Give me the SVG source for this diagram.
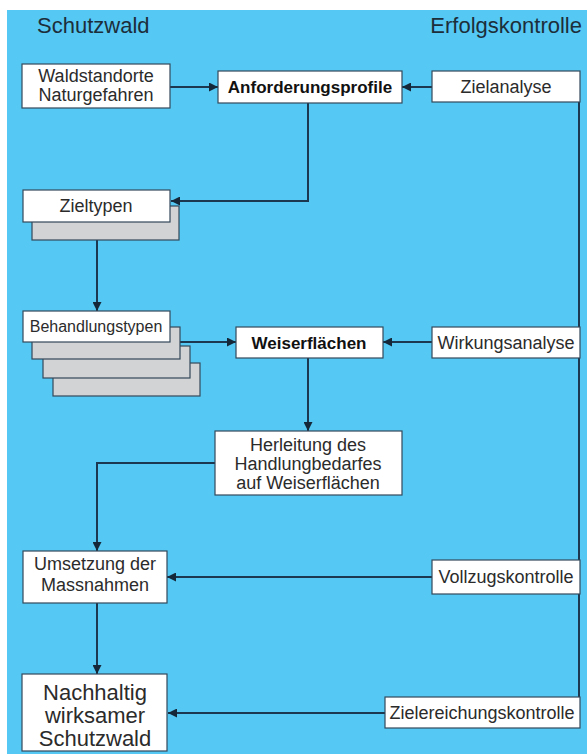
<svg xmlns="http://www.w3.org/2000/svg" width="587" height="754" viewBox="0 0 587 754">
<defs>
<style>
.box{fill:#ffffff;stroke:#33495a;stroke-width:1.2}
.sh{fill:#d2d3d5;stroke:#33495a;stroke-width:1.2}
.t{font-family:"Liberation Sans",Arial,sans-serif;font-size:18px;fill:#2b2b2b;text-anchor:middle}
.b{font-weight:bold;font-size:17px;fill:#111}
.big{font-size:22px}
.sm{font-size:16px}
.title{font-family:"Liberation Sans",Arial,sans-serif;font-size:22px;fill:#1c2e3a}
.c{fill:none;stroke:#1b3850;stroke-width:2}
</style>
<marker id="ah" markerWidth="10" markerHeight="9" refX="9" refY="4.5" orient="auto" markerUnits="userSpaceOnUse">
<path d="M0,0 L9,4.5 L0,9 z" fill="#14283a"/>
</marker>
</defs>
<rect x="7" y="10" width="580" height="744" fill="#56c8f4"/>
<text class="title" x="37" y="33">Schutzwald</text>
<text class="title" x="582" y="33" text-anchor="end">Erfolgskontrolle</text>

<g id="connectors">
<line class="c" x1="579" y1="102" x2="579" y2="698"/>
<line class="c" x1="170" y1="87" x2="218" y2="87" marker-end="url(#ah)"/>
<line class="c" x1="432" y1="87" x2="402" y2="87" marker-end="url(#ah)"/>
<polyline class="c" points="308,103 308,201 171,201" marker-end="url(#ah)"/>
<line class="c" x1="97" y1="240" x2="97" y2="311" marker-end="url(#ah)"/>
<line class="c" x1="180" y1="342" x2="236" y2="342" marker-end="url(#ah)"/>
<line class="c" x1="432" y1="342" x2="383" y2="342" marker-end="url(#ah)"/>
<line class="c" x1="308" y1="358" x2="308" y2="431" marker-end="url(#ah)"/>
<polyline class="c" points="215,463 97,463 97,551" marker-end="url(#ah)"/>
<line class="c" x1="432" y1="577" x2="167" y2="577" marker-end="url(#ah)"/>
<line class="c" x1="97" y1="603" x2="97" y2="674" marker-end="url(#ah)"/>
<line class="c" x1="385" y1="713" x2="168" y2="713" marker-end="url(#ah)"/>
</g>

<g id="waldstandorte">
<rect class="box" x="22" y="64" width="148" height="44"/>
<text class="t" x="96" y="82">Waldstandorte</text>
<text class="t" x="96" y="101">Naturgefahren</text>
</g>
<g id="anforderungsprofile">
<rect class="box" x="218" y="71" width="184" height="32"/>
<text class="t b" x="310" y="93">Anforderungsprofile</text>
</g>
<g id="zielanalyse">
<rect class="box" x="432" y="71" width="148" height="31"/>
<text class="t" x="506" y="93">Zielanalyse</text>
</g>
<g id="zieltypen">
<rect class="sh" x="32" y="206" width="147" height="34"/>
<rect class="box" x="23" y="190" width="147" height="32"/>
<text class="t" x="96" y="212">Zieltypen</text>
</g>
<g id="behandlungstypen">
<rect class="sh" x="53" y="363" width="147" height="33"/>
<rect class="sh" x="43" y="346" width="147" height="32"/>
<rect class="sh" x="32" y="327" width="148" height="32"/>
<rect class="box" x="23" y="311" width="147" height="31"/>
<text class="t sm" x="96" y="332">Behandlungstypen</text>
</g>
<g id="weiserflaechen">
<rect class="box" x="236" y="327" width="147" height="31"/>
<text class="t b" x="309" y="349">Weiserflächen</text>
</g>
<g id="wirkungsanalyse">
<rect class="box" x="432" y="327" width="148" height="31"/>
<text class="t" x="506" y="349">Wirkungsanalyse</text>
</g>
<g id="herleitung">
<rect class="box" x="215" y="431" width="187" height="64"/>
<text class="t" x="308" y="451">Herleitung des</text>
<text class="t" x="308" y="470">Handlungbedarfes</text>
<text class="t" x="308" y="489">auf Weiserflächen</text>
</g>
<g id="umsetzung">
<rect class="box" x="23" y="551" width="144" height="52"/>
<text class="t" x="95" y="570">Umsetzung der</text>
<text class="t" x="95" y="591">Massnahmen</text>
</g>
<g id="vollzugskontrolle">
<rect class="box" x="432" y="560" width="148" height="34"/>
<text class="t" x="506" y="583">Vollzugskontrolle</text>
</g>
<g id="nachhaltig">
<rect class="box" x="22" y="674" width="145" height="77"/>
<text class="t big" x="95" y="700">Nachhaltig</text>
<text class="t big" x="95" y="723">wirksamer</text>
<text class="t big" x="95" y="746">Schutzwald</text>
</g>
<g id="zielereichungskontrolle">
<rect class="box" x="385" y="697" width="195" height="31"/>
<text class="t" x="482" y="719">Zielereichungskontrolle</text>
</g>
</svg>
